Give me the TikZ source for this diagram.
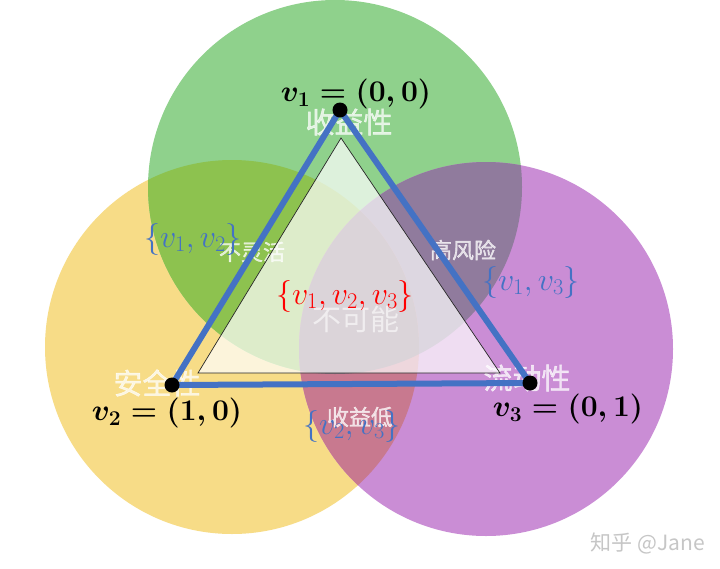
\RequirePackage{fix-cm}
\documentclass[tikz,border=0pt]{standalone}
\usepackage{fontspec}
\usepackage{tikz}
\newfontfamily\cjk{Noto Sans CJK SC}
\newfontfamily\cjkbold[FakeBold=1.5]{Noto Sans CJK SC}
\definecolor{greenset}{HTML}{8FD18C}
\definecolor{yellowset}{HTML}{F7DC87}
\definecolor{purpleset}{HTML}{CA8DD5}
\definecolor{gyset}{HTML}{8DC24F}
\definecolor{gpset}{HTML}{907B9D}
\definecolor{ypset}{HTML}{C8798F}
\definecolor{allset}{HTML}{877080}
\definecolor{setblue}{HTML}{4472C4}

\begin{document}
\begin{tikzpicture}
 [x=1pt, y=-1pt,
  dot node/.style={circle, fill=black, inner sep=0pt, minimum size=15pt},
  point label/.style={font=\fontsize{30}{32}\selectfont\boldmath},
  set label/.style={text=setblue, font=\fontsize{32}{34}\selectfont},
  area label/.style={text=white, text opacity=0.75, font=\cjkbold\fontsize{29}{31}\selectfont},
  small area label/.style={area label, font=\cjkbold\fontsize{22}{24}\selectfont}]

 \useasboundingbox (0,0) rectangle (720,568);
 \fill[white] (0,0) rectangle (720,568);

 \coordinate (G) at (335,187);
 \coordinate (Y) at (232,347);
 \coordinate (P) at (486,349);

 \fill[yellowset] (Y) circle[radius=187pt];
 \fill[greenset] (G) circle[radius=187pt];
 \fill[purpleset] (P) circle[radius=187pt];

 \begin{scope}
  \clip (G) circle[radius=187pt];
  \fill[gyset] (Y) circle[radius=187pt];
  \fill[gpset] (P) circle[radius=187pt];
 \end{scope}
 \begin{scope}
  \clip (Y) circle[radius=187pt];
  \fill[ypset] (P) circle[radius=187pt];
 \end{scope}
 \begin{scope}
  \clip (Y) circle[radius=187pt];
  \clip (P) circle[radius=187pt];
  \fill[allset] (G) circle[radius=187pt];
 \end{scope}

 \node[area label] (a1) at (349,122) {收益性};
 \node[area label] (a2) at (157,383) {安全性};
 \node[area label] (a3) at (527,378) {流动性};
 \node[small area label] (a12) at (252,252) {不灵活};
 \node[small area label] (a13) at (463,250) {高风险};
 \node[small area label] (a23) at (360,417) {收益低};

 \coordinate (q1) at (341,138);
 \coordinate (q2) at (198,373);
 \coordinate (q3) at (500,373);
 \filldraw[fill=white, fill opacity=0.7, draw=black!85, line width=0.7pt] (q1) -- (q2) -- (q3) -- cycle;

 \node[text=white, text opacity=0.6, font=\cjk\fontsize{29}{31}\selectfont] (a123) at (356,319) {不可能};

 \coordinate (p1) at (340,110);
 \coordinate (p2) at (172,385);
 \coordinate (p3) at (530,383);
 \draw[setblue, line width=6pt, line join=round] (p1) -- (p2) -- (p3) -- cycle;

 \node[dot node] (v1) at (p1) {};
 \node[dot node] (v2) at (p2) {};
 \node[dot node] (v3) at (p3) {};

 \node[point label] (l1) at (356,94) {$v_1 = (0,0)$};
 \node[point label] (l2) at (167,413) {$v_2 = (1,0)$};
 \node[point label] (l3) at (568,409) {$v_3 = (0,1)$};

 \node[set label] (s12) at (193,239) {$\{v_1, v_2\}$};
 \node[set label] (s13) at (531,282) {$\{v_1, v_3\}$};
 \node[set label] (s23) at (352,426) {$\{v_2, v_3\}$};
 \node[set label, text=red] (s123) at (345,296) {$\{v_1, v_2, v_3\}$};

 \node[text=gray!45, font=\cjk\fontsize{21}{23}\selectfont] (mark) at (648,543) {知乎 @Jane};
\end{tikzpicture}
\end{document}
